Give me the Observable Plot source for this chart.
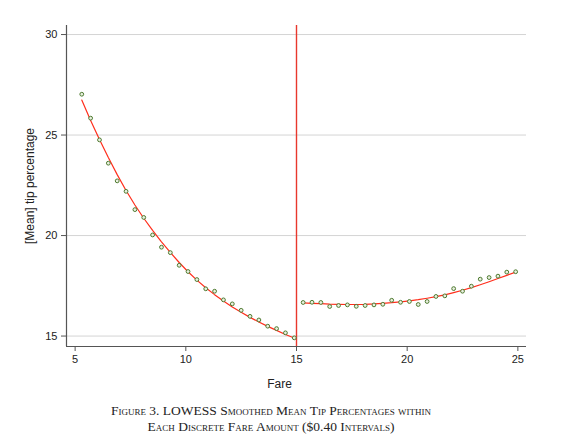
<!DOCTYPE html>
<html>
<head>
<meta charset="utf-8">
<script src="https://cdn.jsdelivr.net/npm/d3@7"></script>
<script src="https://cdn.jsdelivr.net/npm/@observablehq/plot@0.6"></script>
<style>
  html, body { margin: 0; padding: 0; background: #fff; }
  #wrap { width: 564px; height: 395px; }
  #caption {
    width: 564px;
    font-family: "Liberation Serif", "Times New Roman", serif;
    font-variant: small-caps;
    font-size: 13.5px;
    line-height: 15.5px;
    color: #222;
    text-align: center;
    margin-top: 8px;
    padding-right: 22px;
    box-sizing: border-box;
  }
</style>
</head>
<body>
<div id="wrap"></div>
<div id="caption">Figure 3. LOWESS Smoothed Mean Tip Percentages within<br>Each Discrete Fare Amount ($0.40 Intervals)</div>
<script>
// Fare bins below $15
const fareLeft = [5.3, 5.7, 6.1, 6.5, 6.9, 7.3, 7.7, 8.1, 8.5, 8.9, 9.3, 9.7, 10.1, 10.5, 10.9, 11.3, 11.7, 12.1, 12.5, 12.9, 13.3, 13.7, 14.1, 14.5, 14.9];
const tipLeft  = [27.03, 25.84, 24.76, 23.60, 22.72, 22.20, 21.29, 20.90, 20.03, 19.42, 19.15, 18.52, 18.21, 17.81, 17.35, 17.23, 16.80, 16.60, 16.28, 15.98, 15.80, 15.49, 15.37, 15.16, 14.91];
const fitLeft  = [26.74, 25.72, 24.78, 23.88, 23.03, 22.24, 21.52, 20.86, 20.26, 19.69, 19.16, 18.66, 18.20, 17.78, 17.40, 17.06, 16.74, 16.45, 16.18, 15.93, 15.70, 15.48, 15.28, 15.08, 14.90];
// Fare bins above $15
const fareRight = [15.3, 15.7, 16.1, 16.5, 16.9, 17.3, 17.7, 18.1, 18.5, 18.9, 19.3, 19.7, 20.1, 20.5, 20.9, 21.3, 21.7, 22.1, 22.5, 22.9, 23.3, 23.7, 24.1, 24.5, 24.9];
const tipRight  = [16.67, 16.68, 16.67, 16.47, 16.52, 16.55, 16.48, 16.52, 16.55, 16.58, 16.78, 16.68, 16.72, 16.57, 16.72, 16.97, 17.00, 17.36, 17.23, 17.48, 17.83, 17.91, 17.98, 18.18, 18.20];
const fitRight  = [16.65, 16.63, 16.61, 16.59, 16.58, 16.57, 16.57, 16.58, 16.60, 16.63, 16.66, 16.70, 16.75, 16.81, 16.88, 16.96, 17.05, 17.16, 17.28, 17.41, 17.55, 17.70, 17.86, 18.02, 18.18];
// Axes
const xTicks = [5, 10, 15, 20, 25];
const yTicks = [15, 20, 25, 30];
const xDomain = [4.61, 25.39];
const yDomain = [14.48, 30.45];
const cutoff = 15;

const left = fareLeft.map((f, i) => ({fare: f, tip: tipLeft[i], fit: fitLeft[i]}));
const right = fareRight.map((f, i) => ({fare: f, tip: tipRight[i], fit: fitRight[i]}));

const chart = Plot.plot({
  width: 564,
  height: 395,
  marginLeft: 66,
  marginRight: 38,
  marginTop: 25,
  marginBottom: 49,
  style: {fontFamily: "'Liberation Sans', Arial, sans-serif", fontSize: "11px", color: "#222", background: "#fff"},
  x: {domain: xDomain},
  y: {domain: yDomain},
  marks: [
    Plot.gridY(yTicks, {stroke: "#d4d4d4", strokeOpacity: 1, strokeWidth: 1}),
    Plot.ruleX([xDomain[0]], {stroke: "#555", strokeWidth: 1.2}),
    Plot.ruleY([yDomain[0]], {stroke: "#555", strokeWidth: 1.2}),
    Plot.axisX(xTicks, {tickSize: 5, tickPadding: 4, stroke: "#555", fill: "#222", label: null, fontSize: 11}),
    Plot.axisY(yTicks, {tickSize: 5, tickPadding: 4, stroke: "#555", fill: "#222", label: null, fontSize: 11}),
    Plot.ruleX([cutoff], {stroke: "#e8382d", strokeWidth: 1.4}),
    Plot.line(left, {x: "fare", y: "fit", stroke: "#ff2e1c", strokeWidth: 1.2}),
    Plot.line(right, {x: "fare", y: "fit", stroke: "#ff2e1c", strokeWidth: 1.2}),
    Plot.dot(left, {x: "fare", y: "tip", r: 1.9, stroke: "#4e7a30", strokeWidth: 1, fill: "#e9f0e0"}),
    Plot.dot(right, {x: "fare", y: "tip", r: 1.9, stroke: "#4e7a30", strokeWidth: 1, fill: "#e9f0e0"}),
    Plot.text(["[Mean] tip percentage"], {frameAnchor: "left", textAnchor: "middle", lineAnchor: "middle", dx: -36, rotate: -90, fontSize: 12, fill: "#222"}),
    Plot.text(["Fare"], {frameAnchor: "bottom", textAnchor: "middle", lineAnchor: "middle", dx: -17, dy: 38, fontSize: 12, fill: "#222"})
  ]
});
document.getElementById("wrap").appendChild(chart);
</script>
</body>
</html>
